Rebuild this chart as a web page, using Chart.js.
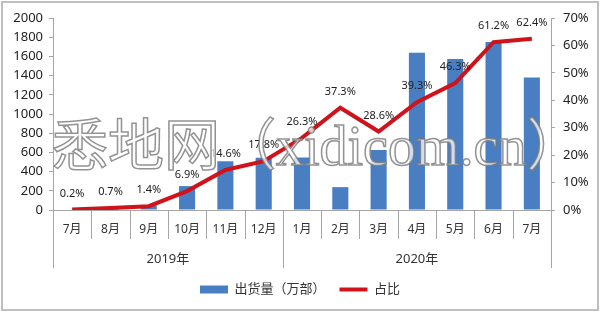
<!DOCTYPE html>
<html lang="zh-cn">
<head>
  <meta charset="UTF-8">
  <title>5G手机出货量</title>
  <script src="https://cdn.jsdelivr.net/npm/chart.js"></script>
  <style>
    html, body { margin: 0; padding: 0; background: #fff; }
    #wrap { width: 600px; height: 312px; position: relative; }
  </style>
</head>
<body>
<div id="wrap"><canvas id="grafico"></canvas></div>
<script>
  // dados
  const months = ['7月', '8月', '9月', '10月', '11月', '12月', '1月', '2月', '3月', '4月', '5月', '6月', '7月'];
  const years = ['2019年', '2020年'];
  const yearSpans = [6, 7];
  const shipments = [5, 21.9, 49.7, 249, 507.4, 543, 546.5, 238.2, 623.8, 1638.2, 1574.2, 1750.6, 1380.3];
  const share = [0.2, 0.7, 1.4, 6.9, 14.6, 17.8, 26.3, 37.3, 28.6, 39.3, 46.3, 61.2, 62.4];
  const leftTicks = [0, 200, 400, 600, 800, 1000, 1200, 1400, 1600, 1800, 2000];
  const rightTicks = [0, 10, 20, 30, 40, 50, 60, 70];

  const FONT = '"Noto Sans", "Noto Sans CJK SC", sans-serif';
  const AXIS = '#a6a6a6';

  // moldura, rótulos de ano, separadores e marca d'água
  const extras = {
    id: 'extras',
    beforeDraw(chart) {
      const c = chart.ctx;
      c.save();
      c.fillStyle = '#fff';
      c.fillRect(0, 0, chart.width, chart.height);
      c.restore();
    },
    afterDatasetsDraw(chart) {
      const c = chart.ctx;
      const x = chart.scales.x;
      const bottom = chart.chartArea.bottom;
      const step = x.getPixelForTick(1) - x.getPixelForTick(0);
      c.save();
      c.strokeStyle = AXIS;
      c.lineWidth = 1;
      // separadores dos meses
      for (let i = 0; i <= months.length; i++) {
        const px = Math.round(x.getPixelForTick(0) + (i - 0.5) * step) + 0.5;
        c.beginPath();
        c.moveTo(px, bottom);
        c.lineTo(px, bottom + 29);
        c.stroke();
      }
      // grupos de ano
      let start = 0;
      c.fillStyle = '#333';
      c.font = '13px ' + FONT;
      c.textAlign = 'center';
      c.textBaseline = 'middle';
      for (let g = 0; g <= years.length; g++) {
        const px = Math.round(x.getPixelForTick(0) + (start - 0.5) * step) + 0.5;
        c.beginPath();
        c.moveTo(px, bottom);
        c.lineTo(px, bottom + 58);
        c.stroke();
        if (g < years.length) {
          const mid = x.getPixelForTick(0) + (start + yearSpans[g] / 2 - 0.5) * step;
          c.fillText(years[g], mid, bottom + 49);
          start += yearSpans[g];
        }
      }
      // rótulos da linha
      const meta = chart.getDatasetMeta(1);
      c.font = '11px ' + FONT;
      c.fillStyle = '#222';
      meta.data.forEach((pt, i) => {
        c.fillText(share[i].toFixed(1) + '%', pt.x, pt.y - 16);
      });
      // marca d'água
      c.font = '56px "Liberation Serif", "Noto Sans CJK SC", serif';
      c.textAlign = 'left';
      c.lineWidth = 1.5;
      c.strokeStyle = 'rgba(120,120,120,0.8)';
      c.fillStyle = 'rgba(255,255,255,0.75)';
      c.fillText('悉地网（xidicom.cn）', 52, 150);
      c.strokeText('悉地网（xidicom.cn）', 52, 150);
      // moldura
      c.strokeStyle = '#bfbfbf';
      c.lineWidth = 2;
      c.strokeRect(2, 2, chart.width - 4, chart.height - 4);
      c.restore();
    }
  };

  new Chart(document.getElementById('grafico'), {
    data: {
      labels: months,
      datasets: [
        {
          type: 'bar',
          label: '出货量（万部）',
          data: shipments,
          yAxisID: 'y',
          backgroundColor: '#4a7ec2',
          barPercentage: 0.84,
          categoryPercentage: 0.5,
          pointStyle: 'rect',
          order: 2
        },
        {
          type: 'line',
          label: '占比',
          data: share,
          yAxisID: 'y1',
          borderColor: '#d0121b',
          backgroundColor: '#d0121b',
          borderWidth: 4,
          pointRadius: 0,
          pointStyle: 'line',
          tension: 0,
          order: 1
        }
      ]
    },
    options: {
      responsive: true,
      maintainAspectRatio: false,
      animation: false,
      layout: { padding: { top: 18, left: 0, right: 0, bottom: 6 } },
      plugins: {
        tooltip: { enabled: false },
        legend: {
          position: 'bottom',
          labels: {
            usePointStyle: true,
            pointStyleWidth: 28,
            boxHeight: 8,
            color: '#333',
            font: { family: FONT, size: 13 },
            padding: 14,
            sort: (a, b) => a.datasetIndex - b.datasetIndex
          }
        }
      },
      scales: {
        x: {
          grid: { display: false, drawTicks: false },
          border: { display: true, color: AXIS },
          ticks: { color: '#333', font: { family: FONT, size: 12 }, padding: 12, maxRotation: 0, autoSkip: false },
          afterFit(s) { s.height = 59; }
        },
        y: {
          position: 'left',
          min: 0, max: 2000,
          afterBuildTicks(s) { s.ticks = leftTicks.map(v => ({ value: v })); },
          grid: { drawOnChartArea: false, tickLength: 4, color: AXIS },
          border: { display: true, color: AXIS },
          ticks: { color: '#222', font: { family: FONT, size: 13 }, padding: 6, autoSkip: false, callback: v => String(v) },
          afterFit(s) { s.width = 53; }
        },
        y1: {
          position: 'right',
          min: 0, max: 70,
          afterBuildTicks(s) { s.ticks = rightTicks.map(v => ({ value: v })); },
          grid: { drawOnChartArea: false, tickLength: 4, color: AXIS },
          border: { display: true, color: AXIS },
          ticks: { color: '#222', font: { family: FONT, size: 13 }, padding: 8, autoSkip: false, callback: v => v + '%' },
          afterFit(s) { s.width = 49; }
        }
      }
    },
    plugins: [extras]
  });
</script>
</body>
</html>
